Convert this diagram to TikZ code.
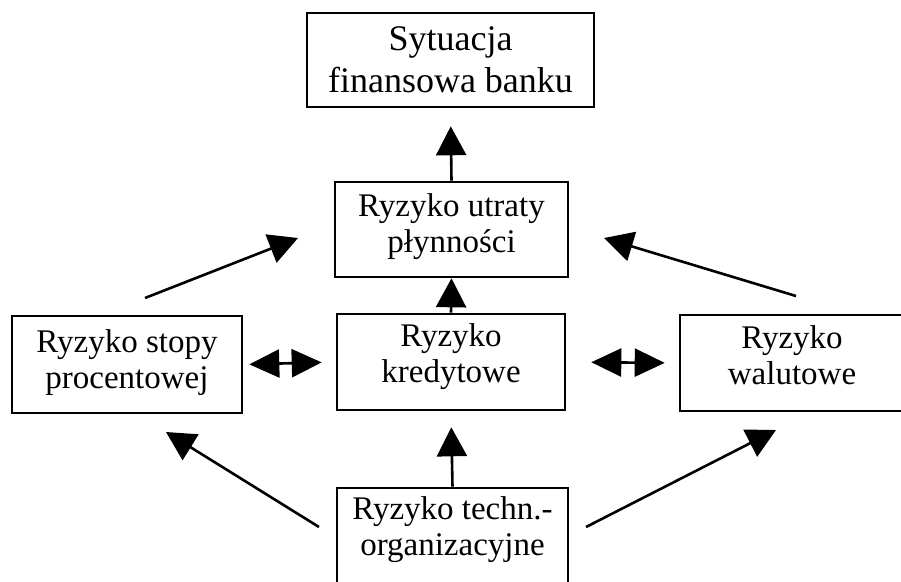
\documentclass[tikz,border=0pt]{standalone}
\usepackage{fontspec}
\setmainfont{Liberation Serif}
\usetikzlibrary{arrows.meta}
% invisible rule that deepens the last line of a box label
\newcommand\deepen[1]{\rule[-#1]{0pt}{#1}}
\begin{document}
\begin{tikzpicture}[x=1pt,y=-1pt,
  line width=2.4pt,
  riskbox/.style={draw,line width=2.6pt,align=center,inner sep=0pt,
    font=\fontsize{33}{36}\selectfont},
  plain/.style={align=center,inner sep=0pt,font=\fontsize{33}{36}\selectfont},
  link/.style={-{Triangle[length=29pt,width=30pt]},line width=2.6pt},
  twoway/.style={{Triangle[length=30pt,width=28pt]}-{Triangle[length=30pt,width=28pt]},line width=2.6pt}]
\clip (0,0) rectangle (901,581);
\fill[white] (0,0) rectangle (901,581);

% boxes
\node[riskbox,minimum width=287pt,minimum height=94pt,
      font=\fontsize{36}{42}\selectfont] (bank) at (450.5,60) {Sytuacja\\finansowa banku};
\node[riskbox,minimum width=233pt,minimum height=95pt] (liq) at (451.5,229.5) {Ryzyko utraty\\płynności\deepen{12pt}};
\node[riskbox,minimum width=228pt,minimum height=96pt] (cred) at (451,362) {Ryzyko\\kredytowe\deepen{17pt}};
\node[riskbox,minimum width=230pt,minimum height=97pt] (rate) at (127,364.5) {Ryzyko stopy\\procentowej\deepen{11pt}};
\node[riskbox,minimum width=224pt,minimum height=96pt] (fx) at (792,363) {Ryzyko\\walutowe\deepen{15pt}};
\node[draw,line width=2.6pt,minimum width=231pt,minimum height=104pt,inner sep=0pt] (tech) at (452.5,540) {};
\node[plain] (techtext) at (452.5,530) {Ryzyko techn.-\\organizacyjne};

% free ends of the slanted connectors
\coordinate (rateup) at (145,298);
\coordinate (liqleft) at (298,238);
\coordinate (fxup) at (796,296);
\coordinate (liqright) at (604,238);
\coordinate (techleft) at (319,527);
\coordinate (rateunder) at (166,432);
\coordinate (techright) at (586,527);
\coordinate (fxunder) at (776,430);

% vertical links
\draw[link,shorten >=18pt] (liq.north) -- (bank.south);
\draw[link] (cred.north) -- (liq.south);
\draw[link,shorten >=16pt] (tech.north) -- (cred.south);

% mutual links
\draw[twoway,shorten <=6pt,shorten >=14pt] (rate.east) -- (cred.west);
\draw[twoway,shorten <=25pt,shorten >=14pt] (cred.east) -- (fx.west);

% slanted links
\draw[link] (rateup) -- (liqleft);
\draw[link] (fxup) -- (liqright);
\draw[link] (techleft) -- (rateunder);
\draw[link] (techright) -- (fxunder);
\end{tikzpicture}
\end{document}
